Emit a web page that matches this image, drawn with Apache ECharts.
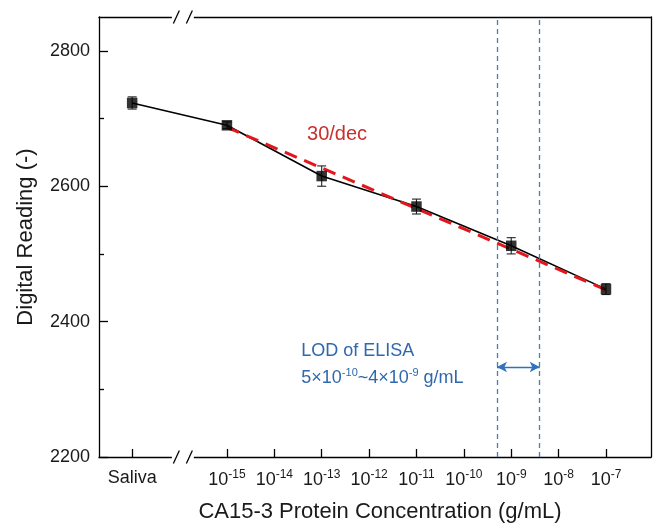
<!DOCTYPE html>
<html><head><meta charset="utf-8">
<script src="https://cdn.jsdelivr.net/npm/echarts@6/dist/echarts.min.js"></script>
<style>html,body{margin:0;padding:0;background:#fff}#c{width:654px;height:528px}</style>
</head><body><div id="c"></div>
<script>
// ---- data ----
const categories = ['Saliva', '1e-15', '1e-13', '1e-11', '1e-9', '1e-7'];
const xPositions = [-17, -15, -13, -11, -9, -7]; // log10(g/mL); Saliva drawn at -17
const readings = [2723, 2690, 2615, 2570, 2512, 2448];
const errors = [9, 5, 15, 11, 12, 8];
const fitLine = [[-15, 2687], [-7, 2447]];
const xTickValues = [-17, -15, -14, -13, -12, -11, -10, -9, -8, -7];
const yMajorTicks = [2200, 2400, 2600, 2800];
const yMinorTicks = [2300, 2500, 2700];
const lodRange = [5e-10, 4e-9];
const lodArrowY = 2333;
const breakAt = -15.93;
const xMin = -17.7, xMax = -6.05, yMin = 2200, yMax = 2850;

const FONT = '"Liberation Sans", Arial, sans-serif';
const lodX = lodRange.map(v => Math.log10(v));
const pts = xPositions.map((x, i) => [x, readings[i], errors[i]]);

const chart = echarts.init(document.getElementById('c'), null, {renderer: 'canvas'});

const axisLineStyle = {color: '#000', width: 1.3};
const option = {
  animation: false,
  backgroundColor: '#fff',
  grid: {left: 99, right: 3, top: 17, bottom: 71, containLabel: false},
  xAxis: [{
    type: 'value', min: xMin, max: xMax, position: 'bottom',
    name: 'CA15-3 Protein Concentration (g/mL)', nameLocation: 'middle', nameGap: 44,
    nameTextStyle: {fontFamily: FONT, fontSize: 22, color: '#1a1a1a', padding: [0, 0, 0, 10]},
    axisLine: {show: true, onZero: false, lineStyle: axisLineStyle},
    axisTick: {show: true, inside: true, length: 8, customValues: xTickValues, lineStyle: {color: '#000', width: 1.3}},
    axisLabel: {
      show: true, margin: 12, customValues: xTickValues, color: '#1a1a1a', fontFamily: FONT, fontSize: 18,
      formatter: v => v === xPositions[0] ? categories[0] : '10{s|' + v + '}',
      rich: {s: {fontSize: 12, fontFamily: FONT, color: '#1a1a1a', padding: [0, 0, 11, 0]}}
    },
    splitLine: {show: false}
  }, {
    type: 'value', min: xMin, max: xMax, position: 'top',
    axisLine: {show: true, onZero: false, lineStyle: axisLineStyle},
    axisTick: {show: false}, axisLabel: {show: false}, splitLine: {show: false}
  }],
  yAxis: [{
    type: 'value', min: yMin, max: yMax, position: 'left',
    name: 'Digital Reading (-)', nameLocation: 'middle', nameGap: 62,
    nameTextStyle: {fontFamily: FONT, fontSize: 22, color: '#1a1a1a'},
    axisLine: {show: true, onZero: false, lineStyle: axisLineStyle},
    axisTick: {show: true, inside: true, length: 9, customValues: yMajorTicks, lineStyle: {color: '#000', width: 1.3}},
    axisLabel: {show: true, margin: 9, customValues: yMajorTicks, color: '#1a1a1a', fontFamily: FONT, fontSize: 18,
      formatter: v => String(v)},
    splitLine: {show: false}
  }, {
    type: 'value', min: yMin, max: yMax, position: 'left', offset: 0,
    axisLine: {show: false, onZero: false},
    axisTick: {show: true, inside: true, length: 5, customValues: yMinorTicks, lineStyle: {color: '#000', width: 1.3}},
    axisLabel: {show: false}, splitLine: {show: false}
  }, {
    type: 'value', min: yMin, max: yMax, position: 'right',
    axisLine: {show: true, onZero: false, lineStyle: axisLineStyle},
    axisTick: {show: false}, axisLabel: {show: false}, splitLine: {show: false}
  }],
  series: [{
    type: 'line', name: 'reading', data: pts.map(p => [p[0], p[1]]),
    symbol: 'none', lineStyle: {color: '#000', width: 1.6}, z: 2,
    markLine: {
      silent: true, symbol: 'none', label: {show: false},
      lineStyle: {color: '#4a7cb8', width: 1.3, type: [5, 4]},
      data: lodX.map(x => ({xAxis: x}))
    }
  }, {
    type: 'line', name: 'fit', data: fitLine, symbol: 'none',
    lineStyle: {color: '#e3161d', width: 3, type: [13, 8]}, z: 3,
    markLine: {
      silent: true, symbol: ['arrow', 'arrow'], symbolSize: [8, 10], label: {show: false},
      lineStyle: {color: '#2f72c0', width: 1.3, type: 'solid'},
      data: [[{coord: [lodX[0], lodArrowY]}, {coord: [lodX[1], lodArrowY]}]]
    }
  }, {
    type: 'custom', name: 'err', data: pts, z: 4,
    renderItem: (params, api) => {
      const x = api.value(0), y = api.value(1), e = api.value(2);
      const top = api.coord([x, y + e]), bot = api.coord([x, y - e]);
      const hw = 4.5;
      const style = {stroke: '#222', lineWidth: 1.1};
      return {type: 'group', children: [
        {type: 'line', shape: {x1: top[0], y1: top[1], x2: bot[0], y2: bot[1]}, style},
        {type: 'line', shape: {x1: top[0] - hw, y1: top[1], x2: top[0] + hw, y2: top[1]}, style},
        {type: 'line', shape: {x1: bot[0] - hw, y1: bot[1], x2: bot[0] + hw, y2: bot[1]}, style}
      ]};
    }
  }, {
    type: 'scatter', name: 'points', data: pts.map(p => [p[0], p[1]]),
    symbol: 'rect', symbolSize: 10.5, itemStyle: {color: '#000'}, z: 5
  }]
};
chart.setOption(option);

function px(x, y) { return chart.convertToPixel({gridIndex: 0}, [x, y]); }
const gridTop = px(xMin, yMax)[1], gridBot = px(xMin, yMin)[1];
const bc = px(breakAt, yMin)[0];
const graphics = [];
[gridTop, gridBot].forEach(yy => {
  graphics.push({type: 'rect', shape: {x: bc - 11, y: yy - 3, width: 22, height: 6}, style: {fill: '#fff'}, z: 100});
  [-6.5, 6.5].forEach(dx => {
    graphics.push({type: 'line', shape: {x1: bc + dx - 3, y1: yy + 6.5, x2: bc + dx + 3, y2: yy - 6.5},
      style: {stroke: '#000', lineWidth: 1.3}, z: 101});
  });
});
const decPos = px(-13.31, 2677);
graphics.push({type: 'text', x: decPos[0], y: decPos[1], z: 50,
  style: {text: '30/dec', fill: '#c9302c', font: '20px ' + FONT, textVerticalAlign: 'middle'}});
const lod1 = px(-13.43, 2357);
graphics.push({type: 'text', x: lod1[0], y: lod1[1], z: 50,
  style: {text: 'LOD of ELISA', fill: '#2f68ad', font: '18px ' + FONT, textVerticalAlign: 'middle'}});
const lod2 = px(-13.43, 2317);
graphics.push({type: 'text', x: lod2[0], y: lod2[1], z: 50,
  style: {
    text: '5×10{s|-10}~4×10{s|-9} g/mL', fill: '#2f68ad', font: '18px ' + FONT, textVerticalAlign: 'middle',
    rich: {s: {fontSize: 11, fontFamily: FONT, fill: '#2f68ad', padding: [0, 0, 10, 0]}}
  }});
chart.setOption({graphic: graphics});
</script></body></html>
